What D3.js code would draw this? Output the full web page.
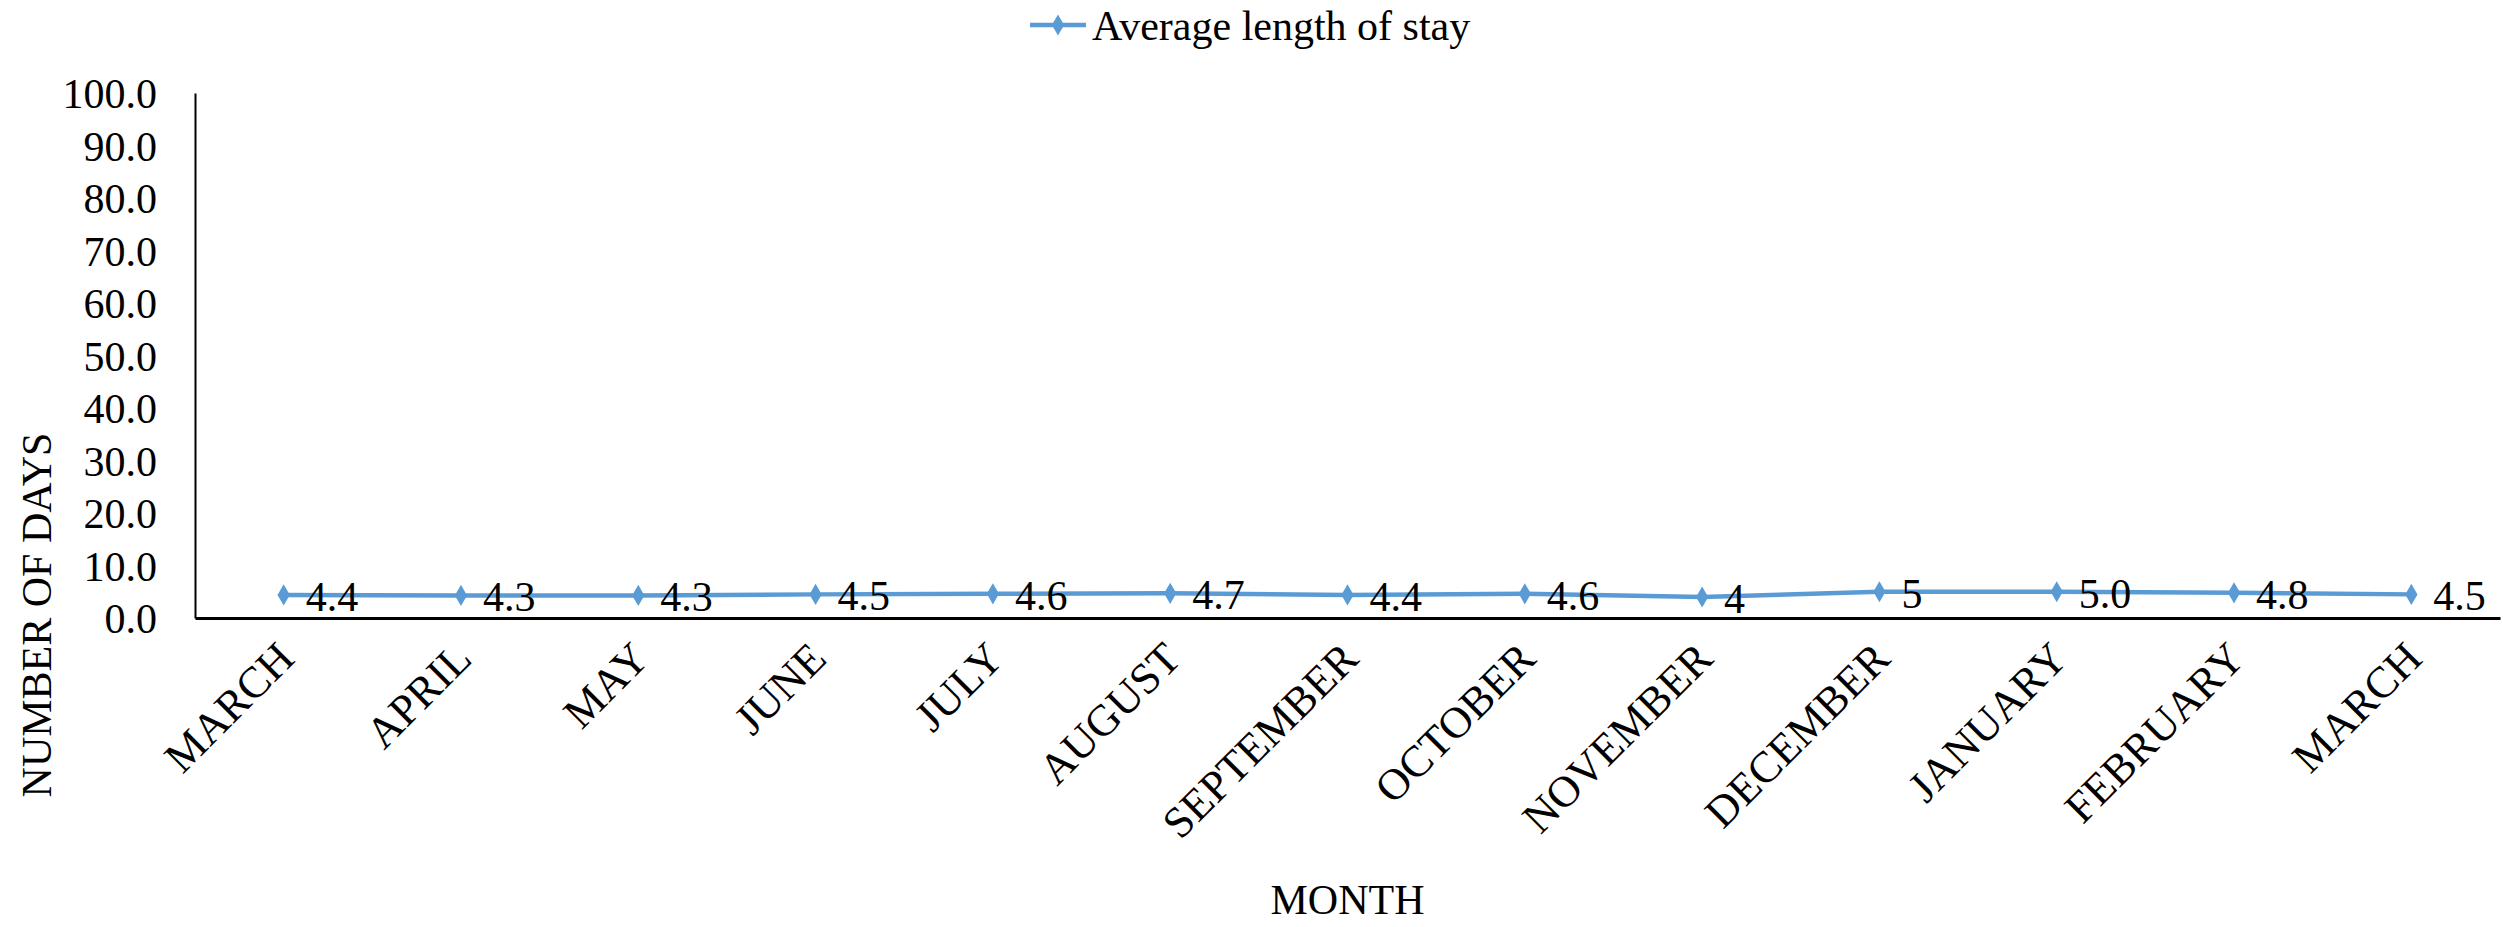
<!DOCTYPE html>
<html>
<head>
<meta charset="utf-8">
<script src="https://cdn.jsdelivr.net/npm/d3@7"></script>
<style>
  body { margin: 0; background: #fff; }
  svg text { font-family: "Times New Roman", "Liberation Serif", serif; fill: #000; }
</style>
</head>
<body>
<svg id="chart" width="2503" height="927"></svg>
<script>
"use strict";
// chart data
const months = ['MARCH','APRIL','MAY','JUNE','JULY','AUGUST','SEPTEMBER','OCTOBER','NOVEMBER','DECEMBER','JANUARY','FEBRUARY','MARCH'];
const avgStay = [4.4, 4.3, 4.3, 4.5, 4.6, 4.7, 4.4, 4.6, 4.0, 5.0, 5.0, 4.8, 4.5];
const pointLabels = ['4.4','4.3','4.3','4.5','4.6','4.7','4.4','4.6','4','5','5.0','4.8','4.5'];
const yTicks = [0,10,20,30,40,50,60,70,80,90,100];
const seriesName = 'Average length of stay';
const xTitle = 'MONTH';
const yTitle = 'NUMBER OF DAYS';

const blue = '#5B9BD5';
const fontSize = 42;

const svg = d3.select('#chart');
const plotLeft = 195, plotRight = 2500, plotTop = 93, plotBottom = 618;

const x = d3.scaleBand()
  .domain(months.map((m, i) => i))
  .range([plotLeft, plotRight]);
const y = d3.scaleLinear()
  .domain([0, 100])
  .range([plotBottom, plotTop]);
const cx = i => x(i) + x.bandwidth() / 2;

//y axis, no tick marks
const yAxis = svg.append('g')
  .attr('transform', `translate(${plotLeft},0)`)
  .call(d3.axisLeft(y).tickValues(yTicks).tickFormat(d3.format('.1f')).tickSize(0).tickPadding(38));
yAxis.select('.domain').attr('stroke', '#000').attr('stroke-width', 2);
yAxis.selectAll('text').style('font-size', fontSize + 'px').attr('dy', '0.35em');

//x axis with slanted month names
const xAxis = svg.append('g')
  .attr('transform', `translate(0,${plotBottom})`)
  .call(d3.axisBottom(x).tickFormat(i => months[i]).tickSize(0));
xAxis.select('.domain').attr('stroke', '#000').attr('stroke-width', 3);
xAxis.selectAll('text')
  .style('font-size', '44px')
  .style('text-anchor', 'end')
  .attr('x', 0).attr('y', 0).attr('dy', '0.35em')
  .attr('transform', 'translate(2,32) rotate(-45)');

//the series line
const line = d3.line()
  .x((d, i) => cx(i))
  .y(d => y(d));
svg.append('path')
  .datum(avgStay)
  .attr('fill', 'none')
  .attr('stroke', blue)
  .attr('stroke-width', 4.5)
  .attr('stroke-linejoin', 'round')
  .attr('d', line);

const diamond = d3.symbol().type(d3.symbolDiamond).size(130);
svg.selectAll('.pt')
  .data(avgStay)
  .enter()
  .append('path')
  .attr('class', 'pt')
  .attr('fill', blue)
  .attr('d', diamond)
  .attr('transform', (d, i) => `translate(${cx(i)},${y(d)})`);

svg.selectAll('.lbl')
  .data(avgStay)
  .enter()
  .append('text')
  .attr('class', 'lbl')
  .attr('x', (d, i) => cx(i) + 22)
  .attr('y', d => y(d))
  .attr('dy', '0.38em')
  .style('font-size', fontSize + 'px')
  .text((d, i) => pointLabels[i]);

//axis titles
svg.append('text')
  .attr('transform', 'translate(51,615) rotate(-90)')
  .style('text-anchor', 'middle')
  .style('font-size', fontSize + 'px')
  .text(yTitle);
svg.append('text')
  .attr('x', (plotLeft + plotRight) / 2)
  .attr('y', 914)
  .style('text-anchor', 'middle')
  .style('font-size', fontSize + 'px')
  .text(xTitle);

//legend on top
const legend = svg.append('g').attr('transform', 'translate(1030,25)');
legend.append('line')
  .attr('x1', 0).attr('x2', 56).attr('y1', 0).attr('y2', 0)
  .attr('stroke', blue).attr('stroke-width', 4.5);
legend.append('path')
  .attr('fill', blue)
  .attr('d', diamond)
  .attr('transform', 'translate(28,0)');
legend.append('text')
  .attr('x', 62).attr('y', 0).attr('dy', '0.35em')
  .style('font-size', fontSize + 'px')
  .text(seriesName);
</script>
</body>
</html>
